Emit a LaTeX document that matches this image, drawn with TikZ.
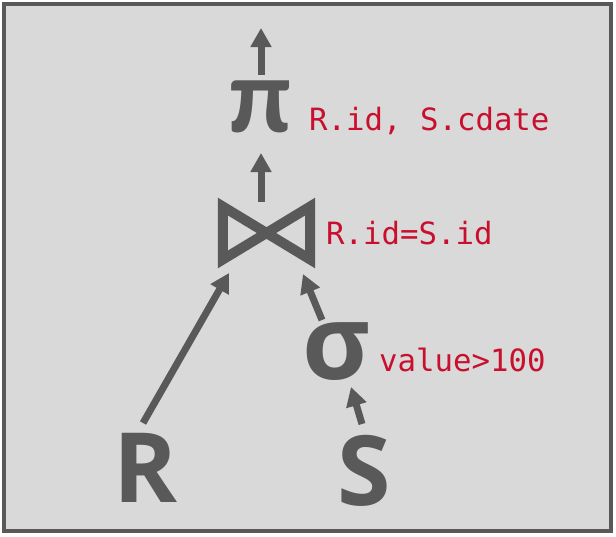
\documentclass[tikz,border=0pt]{standalone}
\usepackage{fontspec}
\usetikzlibrary{arrows.meta,calc}
\newfontfamily\glyphfont{Open Sans}[BoldFont={* Bold}]
\newfontfamily\pifont{Carlito}[BoldFont={* Bold}]
\newfontfamily\monofont{DejaVu Sans Mono}
\definecolor{bggray}{RGB}{217,217,217}
\definecolor{inkgray}{RGB}{89,89,89}
\definecolor{labred}{RGB}{200,16,46}
\tikzset{
  frame/.style={draw=inkgray, fill=bggray, line width=4pt},
  opglyph/.style={text=inkgray, inner sep=0pt, anchor=base, font=\glyphfont\bfseries\fontsize{97}{97}\selectfont},
  cond/.style={text=labred, inner sep=0pt, anchor=base west, font=\monofont\fontsize{30.7}{30.7}\selectfont},
  flow/.style={draw=inkgray, line width=7pt, -{Triangle[length=19pt,width=20pt]}},
  bowtie/.style={draw=inkgray, line width=10pt, line join=miter}
}
\begin{document}
\begin{tikzpicture}[x=1pt,y=-1pt]
\useasboundingbox (0,0) rectangle (616,536);
\draw[frame] (4,4) rectangle (611,531);
% operators
\node[opglyph] (R) at (146,502) {R};
\node[opglyph] (S) at (364,505) {S};
\node[opglyph, font=\glyphfont\bfseries\fontsize{104}{104}\selectfont] (sigma) at (336,379) {σ};
\node[opglyph, font=\pifont\bfseries\fontsize{107}{107}\selectfont] (pi) at (260,132) {π};
\node[minimum width=87pt, minimum height=52.6pt, inner sep=0pt] (join) at (266.5,233) {};
\draw[bowtie] (join.north west) -- (join.south west) -- (join.north east) -- (join.south east) -- cycle;
\coordinate (out) at (261,28);
% labels
\node[cond] (pilab) at (309,130) {R.id, S.cdate};
\node[cond] (joinlab) at (326,244) {R.id=S.id};
\node[cond] (sigmalab) at (379,371) {value>100};
% connectors
\draw[flow] ([shift={(-3,-79)}]R.base) -- ([shift={(-37.5,40)}]join.center);
\draw[flow] ([shift={(-14,-59)}]sigma.base) -- ([shift={(36.5,41)}]join.center);
\draw[flow] ([shift={(-2,-81)}]S.base) -- ([shift={(15,8)}]sigma.base);
\draw[flow] ([shift={(-5.5,-31)}]join.center) -- ([shift={(1,21)}]pi.base);
\draw[flow] ([shift={(1,-57)}]pi.base) -- (out);
\end{tikzpicture}
\end{document}
